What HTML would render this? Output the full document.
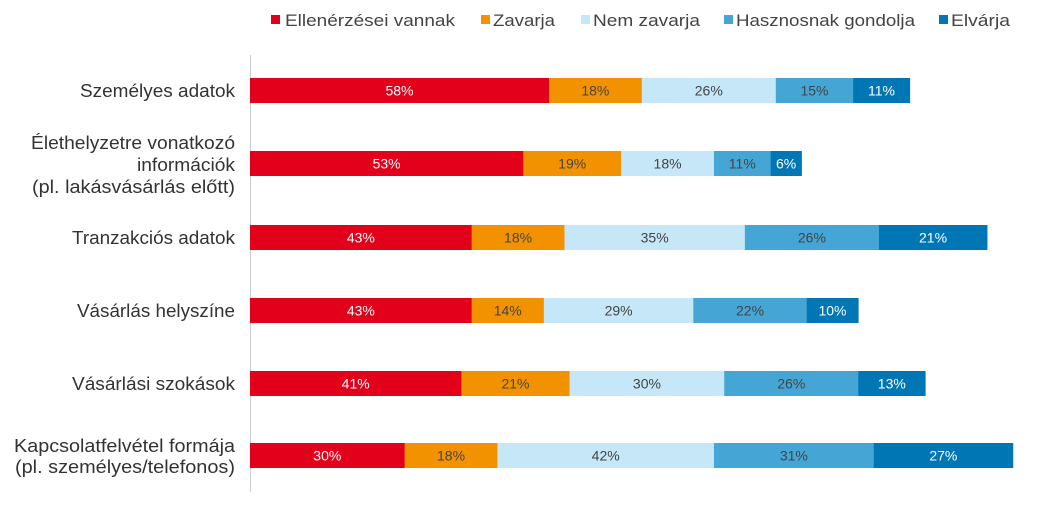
<!DOCTYPE html>
<html><head><meta charset="utf-8"><style>
body{margin:0;background:#fff;}
svg{display:block;font-family:"Liberation Sans",sans-serif;}
</style></head><body>
<svg width="1039" height="509" viewBox="0 0 1039 509">
<g font-size="17" fill="#444" lengthAdjust="spacingAndGlyphs">
<rect x="271" y="15" width="9" height="9" fill="#e2001a"/><text x="285" y="26" textLength="170" lengthAdjust="spacingAndGlyphs">Ellenérzései vannak</text>
<rect x="481" y="15" width="9" height="9" fill="#f39200"/><text x="493" y="26" textLength="62" lengthAdjust="spacingAndGlyphs">Zavarja</text>
<rect x="581" y="15" width="9" height="9" fill="#c6e7f7"/><text x="593" y="26" textLength="107" lengthAdjust="spacingAndGlyphs">Nem zavarja</text>
<rect x="724" y="15" width="9" height="9" fill="#45a6d6"/><text x="736" y="26" textLength="179" lengthAdjust="spacingAndGlyphs">Hasznosnak gondolja</text>
<rect x="939" y="15" width="9" height="9" fill="#0076b4"/><text x="951" y="26" textLength="59" lengthAdjust="spacingAndGlyphs">Elvárja</text>
</g>
<line x1="250.5" y1="55" x2="250.5" y2="492" stroke="#ccc" stroke-width="1"/>
<g font-size="18" fill="#333">
<text x="80" y="97" textLength="155" lengthAdjust="spacingAndGlyphs">Személyes adatok</text>
<text x="31" y="149" textLength="204" lengthAdjust="spacingAndGlyphs">Élethelyzetre vonatkozó</text>
<text x="137" y="171" textLength="98" lengthAdjust="spacingAndGlyphs">információk</text>
<text x="32" y="193" textLength="203" lengthAdjust="spacingAndGlyphs">(pl. lakásvásárlás előtt)</text>
<text x="72" y="244" textLength="163" lengthAdjust="spacingAndGlyphs">Tranzakciós adatok</text>
<text x="77" y="317" textLength="158" lengthAdjust="spacingAndGlyphs">Vásárlás helyszíne</text>
<text x="72" y="390" textLength="163" lengthAdjust="spacingAndGlyphs">Vásárlási szokások</text>
<text x="14" y="452" textLength="221" lengthAdjust="spacingAndGlyphs">Kapcsolatfelvétel formája</text>
<text x="15" y="473" textLength="220" lengthAdjust="spacingAndGlyphs">(pl. személyes/telefonos)</text>
</g>
<g id="bars" font-size="14" text-anchor="middle"></g>
</svg>
<script>
var data=[[58,18,26,15,11],[53,19,18,11,6],[43,18,35,26,21],[43,14,29,22,10],[41,21,30,26,13],[30,18,42,31,27]];
var ys=[78,151,225,298,371,443];
var cols=["#e2001a","#f39200","#c6e7f7","#45a6d6","#0076b4"];
var tc=["#fff","#444","#444","#444","#fff"];
var s=5.155,g=document.getElementById("bars"),h="";
data.forEach(function(r,i){var x=250;r.forEach(function(v,j){var w=v*s;
h+='<rect x="'+x+'" y="'+ys[i]+'" width="'+(w+0.3)+'" height="25" fill="'+cols[j]+'"/>';
h+='<text x="'+(x+w/2)+'" y="'+(ys[i]+17.5)+'" fill="'+tc[j]+'">'+v+'%</text>';x+=w;});});
g.innerHTML=h;
</script>
</body></html>
